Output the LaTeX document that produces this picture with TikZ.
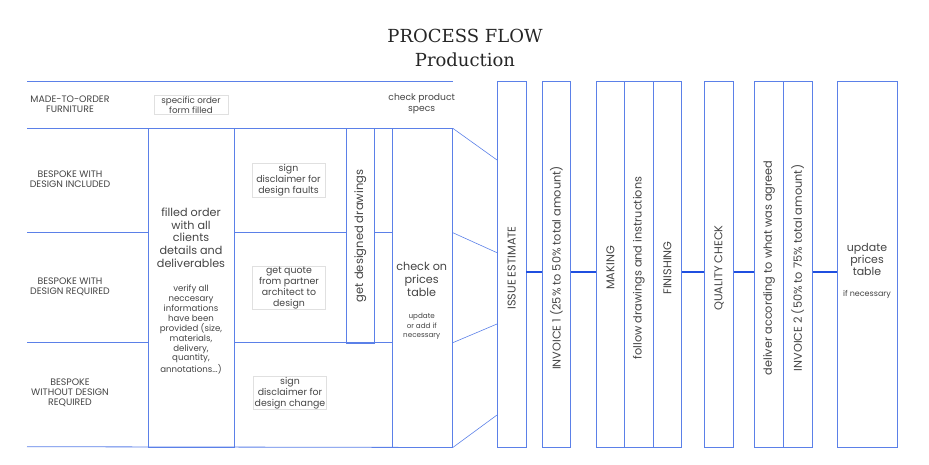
\documentclass[tikz,border=0pt]{standalone}
\usepackage{fontspec}
\setmainfont{Poppins}
\newfontfamily\titlefont{DejaVu Serif}
\usetikzlibrary{positioning}
\definecolor{gridblue}{HTML}{5B80E8}
\definecolor{linkblue}{HTML}{1F4FE0}
\definecolor{textgray}{HTML}{444444}
\definecolor{notegray}{HTML}{E0E0E0}
\tikzset{
  lane/.style={draw=gridblue, line width=0.8pt},
  column/.style={draw=gridblue, line width=0.8pt, inner sep=0pt, anchor=north west, minimum height=366pt},
  link/.style={draw=linkblue, line width=2.2pt},
  kind/.style={text=textgray, align=center, font=\fontsize{9.4}{10.3}\selectfont},
  note/.style={draw=notegray, line width=0.8pt, text=textgray, align=center, inner sep=1pt, font=\fontsize{9.4}{10.8}\selectfont},
  main/.style={text=textgray, align=center, font=\fontsize{11.2}{12.7}\selectfont},
  small/.style={text=textgray, align=center, font=\fontsize{8.6}{9.9}\selectfont},
  vert/.style={text=textgray, rotate=90, font=\fontsize{11.3}{13}\selectfont}
}
\begin{document}
\begin{tikzpicture}[x=1pt, y=-1pt]
\useasboundingbox (0,0) rectangle (929,465);
% title
\node[font=\titlefont\fontsize{18}{24.5}\selectfont, text=black!85, align=center] (title) at (465,48) {PROCESS FLOW\\Production};
% left grid
\node[column, minimum width=86pt, minimum height=318.4pt] (order) at (148,128.3) {};
\node[column, minimum width=28pt, minimum height=214.4pt] (drawings) at (346,128.3) {};
\node[column, minimum width=60pt, minimum height=318.4pt] (check) at (392,128.3) {};
\coordinate (r0) at (27,81.7);
\coordinate (r1) at (27,128.3);
\coordinate (r2) at (27,232.7);
\coordinate (r3) at (27,342.7);
\coordinate (r4) at (27,446.7);
\draw[lane] (r0) -- (check.north east |- r0);
\draw[lane] (r1) -- (check.north east);
\draw[lane] (r2) -- (order.west |- r2) (order.east |- r2) -- (drawings.west |- r2) (drawings.east |- r2) -- (check.west |- r2);
\draw[lane] (r3) -- (order.west |- r3) (order.east |- r3) -- (check.west |- r3);
\draw[lane] (r4) -- (check.south east);
% steps
\node[column, minimum width=28.6pt] (est) at (497,80.7) {};
\node[column, minimum width=28.6pt] (inv1) at (541.7,80.7) {};
\node[column, minimum width=28.6pt] (making) at (595.7,80.7) {};
\node[column, minimum width=28.4pt] (follow) at (624.3,80.7) {};
\node[column, minimum width=28.6pt] (finish) at (652.7,80.7) {};
\node[column, minimum width=28.7pt] (quality) at (704.3,80.7) {};
\node[column, minimum width=28.7pt] (deliver) at (754.3,80.7) {};
\node[column, minimum width=28.7pt] (inv2) at (783,80.7) {};
\node[column, minimum width=60.6pt] (update) at (836.7,80.7) {};
% funnel
\draw[lane, line width=0.6pt] (check.north east) -- (est.west |- 0,160);
\draw[lane, line width=0.6pt] (check.east |- r2) -- (est.west |- 0,252.7);
\draw[lane, line width=0.6pt] (check.east |- r3) -- (est.west |- 0,324);
\draw[lane, line width=0.6pt] (check.south east) -- (est.west |- 0,415);
% links
\coordinate (axis) at (0,271.7);
\draw[link] (est.east |- axis) -- (inv1.west |- axis);
\draw[link] (inv1.east |- axis) -- (making.west |- axis);
\draw[link] (finish.east |- axis) -- (quality.west |- axis);
\draw[link] (quality.east |- axis) -- (deliver.west |- axis);
\draw[link] (inv2.east |- axis) -- (update.west |- axis);
% row labels
\node[kind] (madeto) at (70,104) {MADE-TO-ORDER\\FURNITURE};
\node[kind] (withinc) at (70,179) {BESPOKE WITH\\DESIGN INCLUDED};
\node[kind] (withreq) at (70,287) {BESPOKE WITH\\DESIGN REQUIRED};
\node[kind] (without) at (70,392.7) {BESPOKE\\WITHOUT DESIGN\\REQUIRED};
% notes
\node[note, minimum width=74pt, font=\fontsize{8.7}{10.3}\selectfont] (form) at (191,105.3) {specific order\\form filled};
\node[small, font=\fontsize{9.2}{10.6}\selectfont] (specs) at (421.7,104) {check product\\specs};
\node[note, minimum width=73pt] (faults) at (288.5,180.3) {sign\\disclaimer for\\design faults};
\node[note, minimum width=73.5pt] (quote) at (289,288) {get quote\\from partner\\architect to\\design};
\node[note, minimum width=73.4pt] (change) at (290,393.2) {sign\\disclaimer for\\design change};
\node[main] (filled) at (191,237.5) {filled order\\with all\\clients\\details and\\deliverables};
\node[small, anchor=north] (verify) at (191,281.5) {verify all\\neccesary\\informations\\have been\\provided (size,\\materials,\\delivery,\\quantity,\\annotations...)};
\node[vert, font=\fontsize{11.5}{13}\selectfont] (designed) at (drawings.center) {get designed drawings};
\node[main] (prices) at (421.7,279.3) {check on\\prices\\table};
\node[small, anchor=north, font=\fontsize{7.2}{9.2}\selectfont] (add) at (421.7,310) {update\\or add if\\necessary};
% step labels
\node[vert] at (est.center |- 0,268) {ISSUE ESTIMATE};
\node[vert] at (inv1.center |- 0,268) {INVOICE 1 (25\% to 50\% total amount)};
\node[vert] at (making.center |- 0,268) {MAKING};
\node[vert] at (follow.center |- 0,268) {follow drawings and instructions};
\node[vert] at (finish.center |- 0,268) {FINISHING};
\node[vert] at (quality.center |- 0,268) {QUALITY CHECK};
\node[vert] at (deliver.center |- 0,268) {deliver according to what was agreed};
\node[vert] at (inv2.center |- 0,268) {INVOICE 2 (50\% to 75\% total amount)};
\node[main, font=\fontsize{11}{12}\selectfont] (tableup) at (867,259) {update\\prices\\table};
\node[small, font=\fontsize{8}{9}\selectfont] (ifnec) at (867,294) {if necessary};
\end{tikzpicture}
\end{document}
